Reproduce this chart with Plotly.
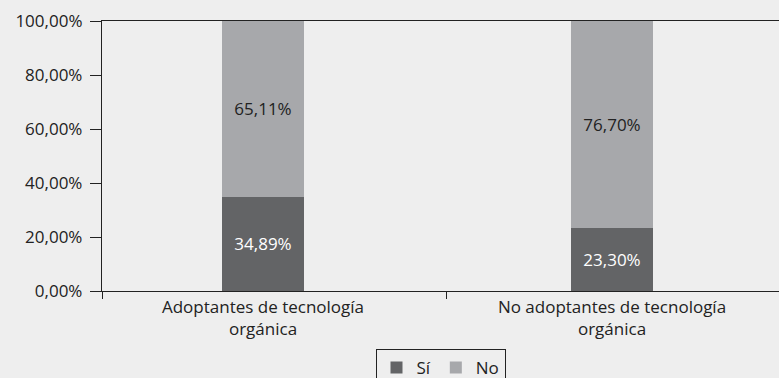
import plotly.graph_objects as go

# Share of respondents by group (percent)
categories = ["Adoptantes de tecnología<br>orgánica", "No adoptantes de tecnología<br>orgánica"]
si_values = [34.89, 23.30]
no_values = [65.11, 76.70]
y_ticks = [0, 20, 40, 60, 80, 100]
y_tick_labels = [f"{v:.2f}%".replace(".", ",") for v in y_ticks]

DARK = "#636466"
LIGHT = "#a7a8ab"
BG = "#eeeeee"
INK = "#222222"
FONT = "Open Sans"
SIZE = 17

positions = list(range(len(categories)))

fig = go.Figure()
fig.add_trace(go.Bar(
    name="Sí", x=positions, y=si_values, width=0.235,
    marker=dict(color=DARK, line=dict(width=0)),
    texttemplate="%{y:.2f}%", textposition="inside", insidetextanchor="middle",
    textfont=dict(color="white", size=SIZE, family=FONT),
))
fig.add_trace(go.Bar(
    name="No", x=positions, y=no_values, width=0.235,
    marker=dict(color=LIGHT, line=dict(width=0)),
    texttemplate="%{y:.2f}%", textposition="inside", insidetextanchor="middle",
    textfont=dict(color=INK, size=SIZE, family=FONT),
))

# Invisible trace on an overlaid axis that carries the category boundary ticks
fig.add_trace(go.Scatter(x=[0], y=[0], xaxis="x2", mode="markers",
                         marker=dict(opacity=0), showlegend=False, hoverinfo="skip"))

fig.update_layout(
    barmode="stack",
    width=779, height=378,
    margin=dict(l=102, r=0, t=21, b=87, autoexpand=False),
    paper_bgcolor=BG, plot_bgcolor=BG,
    separators=",.",
    font=dict(family=FONT, size=SIZE, color=INK),
    xaxis=dict(
        range=[-0.4613, 1.4785],
        tickvals=positions, ticktext=categories,
        ticks="", showgrid=False, zeroline=False,
        showline=True, linecolor=INK, linewidth=1.3, mirror=True,
        tickfont=dict(size=SIZE, color=INK),
        automargin=False,
    ),
    xaxis2=dict(
        overlaying="x", side="bottom", anchor="y",
        range=[-0.5, -0.5 + 677 / 344],
        tickvals=[-0.5, 0.5], ticktext=["", ""],
        ticks="outside", ticklen=7, tickwidth=1.3, tickcolor=INK,
        showgrid=False, zeroline=False, showline=False,
        automargin=False,
    ),
    yaxis=dict(
        range=[0, 100], tickvals=y_ticks, ticktext=y_tick_labels,
        ticks="outside", ticklen=11, tickwidth=1.3, tickcolor=INK,
        ticklabelstandoff=4,
        showgrid=False, zeroline=False,
        showline=True, linecolor=INK, linewidth=1.3,
        tickfont=dict(size=SIZE, color=INK),
        automargin=False,
    ),
    legend=dict(
        orientation="h", x=0.5, xanchor="center",
        yref="container", y=1 - 349 / 378, yanchor="top",
        bgcolor=BG, bordercolor=INK, borderwidth=1,
        font=dict(size=SIZE, color=INK),
        traceorder="normal",
    ),
    showlegend=True,
)

fig.write_html("out.html")
